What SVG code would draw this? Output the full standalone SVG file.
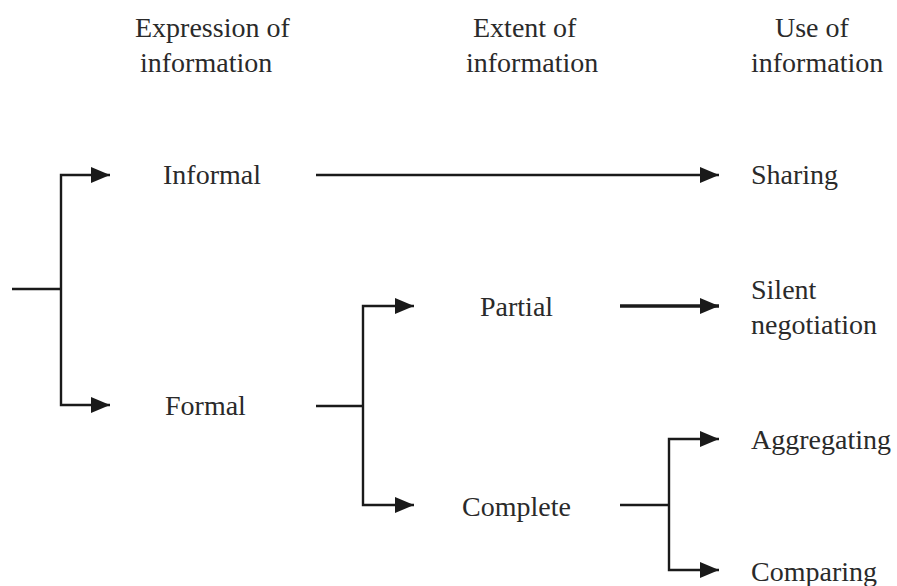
<svg xmlns="http://www.w3.org/2000/svg" width="897" height="586" viewBox="0 0 897 586">
  <style>
    text { font-family: "Liberation Serif", "Times New Roman", serif; font-size: 28px; fill: #2a2a2a; }
    .wire { fill: none; stroke: #1a1a1a; stroke-width: 2.4; }
    .thick { stroke-width: 3.6; }
  </style>
  <defs>
    <marker id="head" markerUnits="userSpaceOnUse" markerWidth="20" markerHeight="18" refX="19" refY="8" orient="auto">
      <path d="M0,0 L19,8 L0,16 z" fill="#1a1a1a"/>
    </marker>
  </defs>
  <rect width="897" height="586" fill="#ffffff"/>

  <!-- column headings -->
  <g id="heading-expression">
    <text x="135" y="37">Expression of</text>
    <text x="140" y="72">information</text>
  </g>
  <g id="heading-extent">
    <text x="473" y="37">Extent of</text>
    <text x="466" y="72">information</text>
  </g>
  <g id="heading-use">
    <text x="775" y="37">Use of</text>
    <text x="751" y="72">information</text>
  </g>

  <!-- nodes -->
  <g id="informal"><text x="163" y="184">Informal</text></g>
  <g id="formal"><text x="165" y="415">Formal</text></g>
  <g id="partial"><text x="480" y="316">Partial</text></g>
  <g id="complete"><text x="462" y="516">Complete</text></g>
  <g id="sharing"><text x="751" y="184">Sharing</text></g>
  <g id="silent-negotiation">
    <text x="751" y="299">Silent</text>
    <text x="751" y="334">negotiation</text>
  </g>
  <g id="aggregating"><text x="751" y="449">Aggregating</text></g>
  <g id="comparing"><text x="751" y="581">Comparing</text></g>

  <!-- connectors -->
  <g id="connectors">
    <path class="wire" d="M12,289 H61"/>
    <path class="wire" d="M61,289 V175 H110" marker-end="url(#head)"/>
    <path class="wire" d="M61,289 V405 H110" marker-end="url(#head)"/>
    <path class="wire" d="M316,175 H719" marker-end="url(#head)"/>
    <path class="wire" d="M316,406 H363"/>
    <path class="wire" d="M363,406 V306 H414" marker-end="url(#head)"/>
    <path class="wire" d="M363,406 V505 H414" marker-end="url(#head)"/>
    <path class="wire thick" d="M620,306 H719" marker-end="url(#head)"/>
    <path class="wire" d="M620,505 H669"/>
    <path class="wire" d="M669,505 V439 H719" marker-end="url(#head)"/>
    <path class="wire" d="M669,505 V570 H719" marker-end="url(#head)"/>
  </g>
</svg>
